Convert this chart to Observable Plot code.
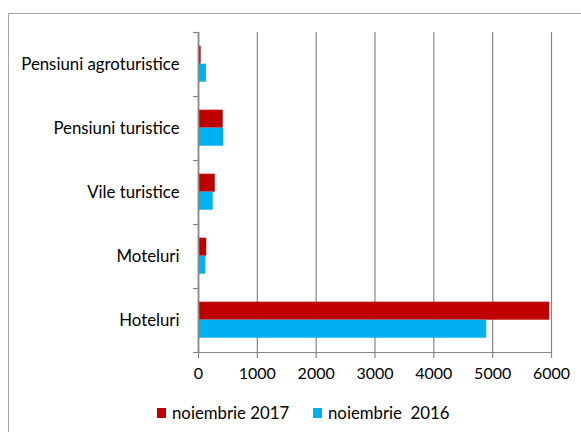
<!DOCTYPE html>
<html>
<head>
<meta charset="utf-8">
<script src="https://cdn.jsdelivr.net/npm/d3@7"></script>
<script src="https://cdn.jsdelivr.net/npm/@observablehq/plot@0.6"></script>
<style>
  html, body { margin: 0; padding: 0; background: #fff; }
  #wrap { position: relative; width: 581px; height: 432px; overflow: hidden; font-family: Lato, "Open Sans", sans-serif; }
  #frame { position: absolute; left: 8px; top: 13px; width: 640px; height: 520px; border: 1.5px solid #a6a6a6; box-sizing: border-box; }
  #chart { position: absolute; left: 0; top: 0; }
  #legend { position: absolute; left: 0; top: 402px; width: 581px; font-size: 16.8px; color: #000; }
  .item { position: absolute; top: 0; display: flex; align-items: center; white-space: pre; }
  .sw { width: 9px; height: 10px; margin-right: 6px; }
</style>
</head>
<body>
<div id="wrap">
  <div id="frame"></div>
  <div id="chart"></div>
  <div id="legend"></div>
</div>
<script>
const categories = ["Pensiuni agroturistice", "Pensiuni turistice", "Vile turistice", "Moteluri", "Hoteluri"];
const series = ["noiembrie 2017", "noiembrie  2016"];
const values2017 = [45, 420, 285, 140, 5970];
const values2016 = [135, 430, 250, 125, 4900];
const xTicks = [0, 1000, 2000, 3000, 4000, 5000, 6000];
const colors = ["#C00000", "#00B0F0"];

const rows2017 = categories.map((c, i) => ({category: c, value: values2017[i]}));
const rows2016 = categories.map((c, i) => ({category: c, value: values2016[i]}));

const W = 581, H = 395;
const grey = "#868686";

const plot = Plot.plot({
  width: W,
  height: H,
  marginLeft: 198,
  marginRight: 30,
  marginTop: 32,
  marginBottom: H - 352,
  style: {fontFamily: "Lato, 'Open Sans', sans-serif", fontSize: "16px", color: "#000", background: "transparent", overflow: "visible"},
  x: {domain: [0, 6000], ticks: xTicks, label: null},
  y: {domain: categories, padding: 0, label: null},
  marks: [
    Plot.ruleX(xTicks.slice(1), {stroke: grey, strokeWidth: 1.2, strokeOpacity: 1}),
    Plot.barX(rows2017, {y: "category", x: "value", fill: colors[0], insetTop: 13.7, insetBottom: 32.3}),
    Plot.barX(rows2016, {y: "category", x: "value", fill: colors[1], insetTop: 31.7, insetBottom: 14.3}),
    Plot.ruleY(categories, {y: d => d, x1: -85, x2: 0, dy: -32, stroke: grey, strokeWidth: 1.2}),
    Plot.ruleY([categories[categories.length - 1]], {y: d => d, x1: -85, x2: 0, dy: 32, stroke: grey, strokeWidth: 1.2}),
    Plot.ruleY([categories[categories.length - 1]], {y: d => d, x1: 0, x2: 6000, dy: 32, stroke: grey, strokeWidth: 1.2}),
    Plot.ruleX([0], {stroke: grey, strokeWidth: 1.8}),
    Plot.axisX({ticks: xTicks, tickSize: 6, tickPadding: 9, stroke: grey, strokeWidth: 1.2, strokeOpacity: 1, fontSize: 16, tickFormat: d => String(d), label: null}),
    Plot.axisY({tickSize: 0, tickPadding: 19, fontSize: 16.8, label: null})
  ]
});
document.getElementById("chart").appendChild(plot);

const legend = document.getElementById("legend");
const lefts = [157, 313];
series.forEach((s, i) => {
  const item = document.createElement("div");
  item.className = "item";
  item.style.left = lefts[i] + "px";
  const sw = document.createElement("div");
  sw.className = "sw";
  sw.style.background = colors[i];
  const t = document.createElement("span");
  t.textContent = s;
  item.appendChild(sw);
  item.appendChild(t);
  legend.appendChild(item);
});
</script>
</body>
</html>
